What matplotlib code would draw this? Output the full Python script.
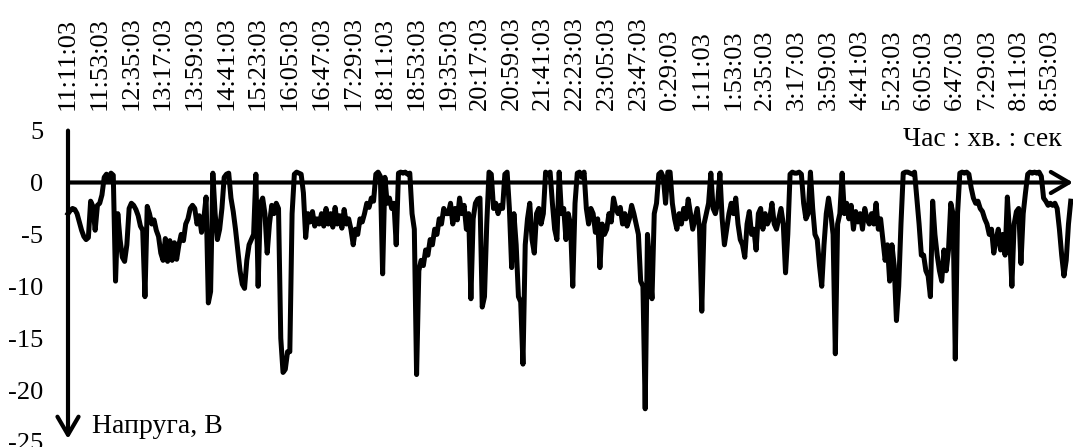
import numpy as np
import matplotlib
matplotlib.use("Agg")
import matplotlib.pyplot as plt

# tick labels on the top axis (every 42 minutes)
time_labels = ["11:11:03", "11:53:03", "12:35:03", "13:17:03", "13:59:03", "14:41:03",
               "15:23:03", "16:05:03", "16:47:03", "17:29:03", "18:11:03", "18:53:03",
               "19:35:03", "20:17:03", "20:59:03", "21:41:03", "22:23:03", "23:05:03",
               "23:47:03", "0:29:03", "1:11:03", "1:53:03", "2:35:03", "3:17:03",
               "3:59:03", "4:41:03", "5:23:03", "6:05:03", "6:47:03", "7:29:03",
               "8:11:03", "8:53:03"]
label_step_min = 42
sample_step_min = 3

# voltage samples (V), one every 3 minutes from 11:11:03
voltage = [
    -3.0, -2.7, -2.5, -2.6, -3.0, -3.8, -4.6, -5.2, -5.5, -5.3, -1.8, -2.3, -4.6, -2.2,
    -2.0, -1.2, 0.5, 0.8, 0.2, 0.9, 0.7, -9.5, -3.0, -5.5, -7.2, -7.6, -6.0, -2.5,
    -2.0, -2.2, -2.6, -3.2, -4.2, -4.6, -11.0, -2.3, -3.0, -4.0, -3.6, -4.6, -5.2, -6.8,
    -7.5, -5.4, -7.6, -5.6, -7.5, -5.8, -7.4, -6.0, -5.0, -5.6, -4.0, -3.5, -2.5, -2.2,
    -2.5, -4.0, -3.2, -4.8, -3.5, -1.4, -11.6, -10.5, 0.9, -3.0, -5.5, -4.5, -2.5, 0.5,
    0.8, 0.9, -1.5, -2.8, -4.5, -6.5, -8.5, -9.8, -10.2, -7.5, -6.0, -5.5, -5.0, 0.8,
    -10.0, -2.0, -1.5, -3.0, -6.8, -4.0, -2.2, -3.0, -2.0, -2.5, -15.0, -18.3, -18.0, -16.3,
    -16.3, -3.0, 0.8, 1.0, 0.9, 0.8, -1.0, -5.3, -3.0, -3.8, -2.8, -4.2, -3.5, -4.0,
    -3.0, -4.2, -2.5, -4.0, -3.0, -4.3, -2.4, -4.0, -3.2, -4.4, -2.6, -4.0, -3.5, -4.5,
    -6.0, -4.5, -5.0, -3.5, -3.8, -3.0, -2.0, -2.4, -1.5, -1.8, 0.8, 1.0, 0.6, -8.8,
    0.5, -2.0, -1.5, -2.5, -2.0, -6.0, 0.9, 1.0, 0.9, 1.0, 0.8, 0.9, -3.0, -4.5,
    -18.5, -8.5, -7.5, -8.0, -6.5, -7.0, -5.5, -6.0, -4.5, -5.0, -3.5, -4.0, -2.5, -3.0,
    -3.0, -2.0, -4.0, -2.5, -3.6, -1.5, -3.0, -2.2, -4.5, -3.0, -11.2, -3.5, -2.0, -1.6,
    -1.5, -12.0, -11.0, -4.0, 1.0, 0.8, -2.5, -2.0, -3.0, -2.2, -2.5, 0.8, 1.0, -2.5,
    -8.2, -3.0, -6.0, -11.0, -11.5, -17.5, -6.0, -3.5, -2.0, -5.5, -6.8, -3.0, -2.5, -4.0,
    -3.0, 1.0, 0.8, 1.0, -2.0, -4.5, -5.5, 1.0, -3.0, -2.5, -5.5, -3.0, -4.0, -10.0,
    -2.0, 0.9, 1.0, 0.5, 1.0, -2.5, -4.0, -2.5, -3.0, -4.8, -3.5, -8.2, -4.0, -5.0,
    -4.5, -3.0, -3.8, -1.5, -2.5, -3.0, -2.4, -4.0, -3.0, -4.2, -3.5, -2.2, -3.0, -4.0,
    -5.0, -9.5, -10.0, -21.8, -5.0, -8.0, -11.2, -3.0, -2.0, 0.8, 1.0, 0.5, -2.0, 1.0,
    1.0, -2.0, -3.5, -4.5, -3.0, -4.0, -2.5, -3.5, -1.6, -3.0, -4.5, -3.5, -2.5, -4.5,
    -12.4, -4.0, -3.0, -2.0, 0.9, -2.5, -3.0, -2.0, 0.9, -3.5, -6.0, -4.5, -3.0, -2.0,
    -3.0, -1.5, -4.0, -5.5, -6.0, -7.2, -4.0, -2.8, -5.0, -4.5, -6.5, -3.0, -2.5, -4.5,
    -3.0, -4.0, -3.5, -2.0, -4.0, -4.5, -3.5, -2.5, -4.0, -8.7, -5.0, 0.8, 1.0, 0.9,
    0.9, 1.0, 0.8, -2.0, -3.5, -3.0, 1.0, -2.5, -5.0, -5.5, -8.0, -10.0, -6.0, -3.0,
    -1.5, -3.0, -5.0, -16.5, -4.0, -3.0, 0.9, -3.0, -2.0, -3.5, -2.2, -4.5, -2.8, -3.8,
    -3.0, -4.5, -2.5, -3.5, -4.0, -3.0, -4.0, -2.0, -4.5, -3.5, -5.5, -7.5, -6.0, -9.5,
    -6.0, -8.0, -13.3, -10.0, -4.0, 0.9, 1.0, 1.0, 0.9, 0.8, 1.0, -1.5, -4.0, -7.0,
    -7.0, -8.5, -9.0, -11.0, -1.8, -5.0, -7.0, -8.5, -9.5, -6.5, -8.5, -6.5, -2.0, -3.0,
    -17.0, -3.0, 0.9, 1.0, 0.9, 1.0, 0.8, -0.5, -1.5, -2.0, -1.8, -2.5, -2.8, -3.5,
    -4.0, -5.0, -4.5, -6.8, -5.5, -4.5, -6.5, -5.0, -7.0, -1.4, -5.0, -10.0, -4.0, -2.8,
    -2.5, -7.8, -3.0, -1.0, 0.8, 1.0, 0.9, 1.0, 0.9, 1.0, 0.6, -1.5, -1.8, -2.2,
    -2.0, -2.2, -2.0, -2.5, -4.5, -7.0, -9.0, -7.5, -4.0, -1.8,
]

y_ticks = [5, 0, -5, -10, -15, -20, -25]

plt.rcParams['font.family'] = ['Liberation Serif', 'DejaVu Serif']

W, H = 1073, 447
fig = plt.figure(figsize=(W / 100, H / 100), dpi=100)
ax = fig.add_axes([68 / W, 5 / H, 1005 / W, (442 - 130.6) / H])

minutes = np.arange(len(voltage)) * sample_step_min
ax.plot(minutes, voltage, color='black', lw=3.6, solid_joinstyle='round',
        clip_on=False, zorder=3)

ax.set_xlim(0, 1332)
ax.set_ylim(-25, 5)
for s in ax.spines.values():
    s.set_visible(False)

ax.set_yticks(y_ticks)
ax.set_yticklabels([str(v) for v in y_ticks])
ax.tick_params(axis='y', length=0, pad=18, labelsize=19)

tick_pos = np.arange(len(time_labels)) * label_step_min
ax.set_xticks(tick_pos)
ax.set_xticklabels(time_labels, rotation=90)
ax.tick_params(axis='x', length=0, pad=14.8, labelsize=19, top=True, labeltop=True,
               bottom=False, labelbottom=False)

arrow_kw = dict(arrowstyle='->,head_length=0.65,head_width=0.38', lw=3, color='black',
                shrinkA=0, shrinkB=0, mutation_scale=20)
ax.annotate('', xy=(1332, 0), xytext=(0, 0), arrowprops=arrow_kw,
            annotation_clip=False, zorder=4)
ax.annotate('', xy=(0, -24.7), xytext=(0, 5), arrowprops=arrow_kw,
            annotation_clip=False, zorder=4)

ax.text(1317, 3.5, 'Час : хв. : сек', ha='right', va='baseline', fontsize=20)
ax.text(32, -24.1, 'Напруга, В', ha='left', va='baseline', fontsize=20)

fig.savefig('out.png', dpi=100)
